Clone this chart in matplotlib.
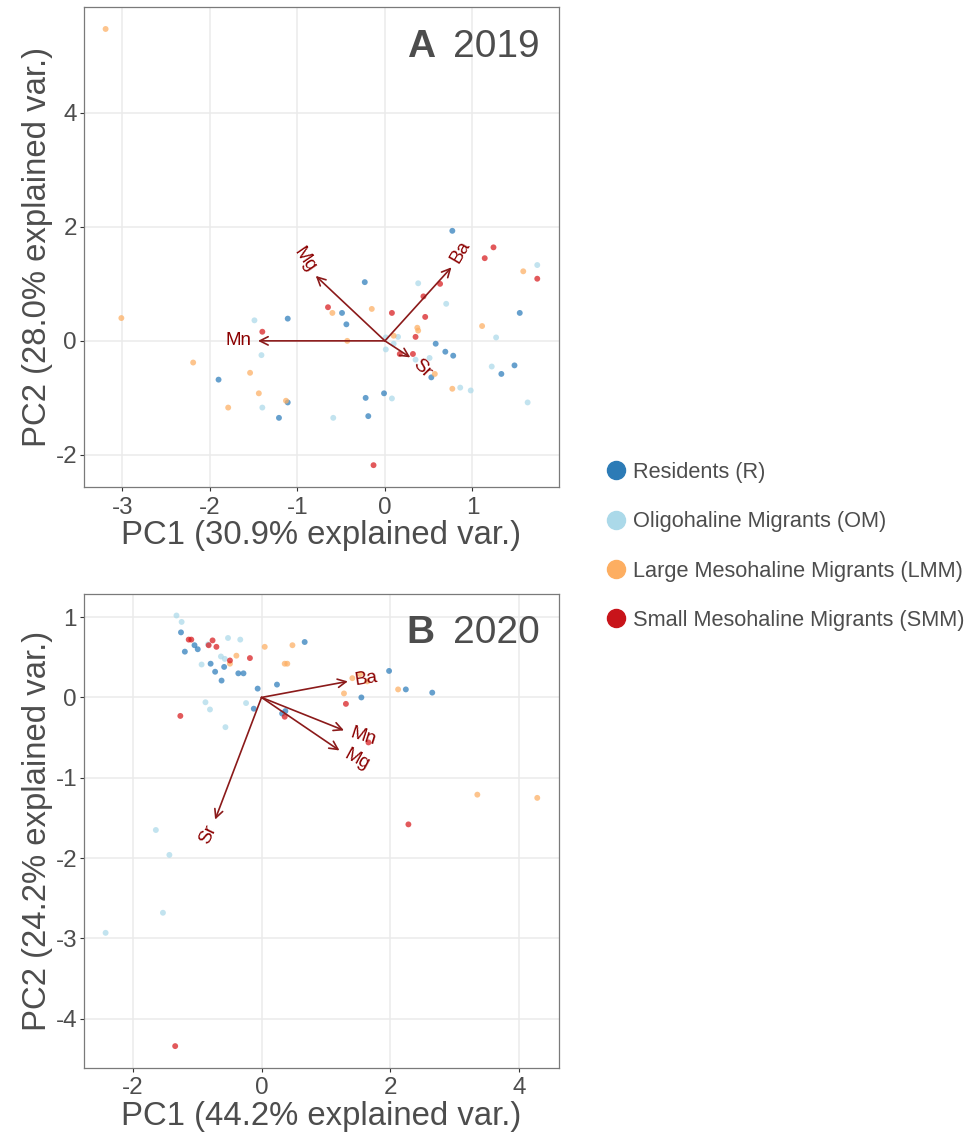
import numpy as np
import matplotlib.pyplot as plt
from matplotlib.lines import Line2D

plt.rcParams['font.family'] = ['Liberation Sans', 'DejaVu Sans']

groups = ['Residents (R)', 'Oligohaline Migrants (OM)',
          'Large Mesohaline Migrants (LMM)', 'Small Mesohaline Migrants (SMM)']
point_colors = ['#2b7bba', '#abd9e9', '#fdae61', '#d7191c']
legend_colors = ['#2c7bb6', '#abd9e9', '#fdae61', '#c8141a']

# 2019 scores
r19_x = [0.77, -0.23, -1.11, -0.49, -0.44, 1.54, 0.58, 0.69, 0.78, 0.53, 1.33, 1.48, -1.90, -1.11, -1.21, -0.22, -0.01, -0.19]
r19_y = [1.93, 1.03, 0.39, 0.49, 0.29, 0.49, -0.05, -0.19, -0.26, -0.64, -0.58, -0.43, -0.68, -1.08, -1.35, -1.00, -0.92, -1.32]
om19_x = [0.38, 0.70, 1.74, -1.49, -1.41, -1.40, -0.59, 0.08, 0.01, 0.01, 0.10, 0.15, 0.35, 0.51, 0.86, 0.98, 1.22, 1.27, 1.63]
om19_y = [1.01, 0.65, 1.33, 0.36, -0.25, -1.17, -1.35, -1.01, 0.06, -0.15, -0.05, 0.07, -0.33, -0.30, -0.82, -0.87, -0.45, 0.06, -1.08]
lmm19_x = [-3.19, -3.01, -2.19, -1.54, -1.79, -1.44, -1.13, -0.60, -0.15, -0.43, 0.10, 0.37, 0.38, 0.57, 0.77, 1.11, 1.58]
lmm19_y = [5.47, 0.40, -0.38, -0.56, -1.17, -0.92, -1.05, 0.49, 0.56, 0.00, 0.09, 0.23, 0.18, -0.58, -0.84, 0.26, 1.22]
smm19_x = [1.24, 1.14, 1.74, 0.63, 0.44, 0.46, 0.08, -0.65, -1.40, 0.35, 0.17, 0.32, -0.13]
smm19_y = [1.64, 1.45, 1.09, 1.00, 0.78, 0.42, 0.49, 0.59, 0.16, 0.07, -0.23, -0.23, -2.18]

# 2019 loadings
vars19 = ['Mg', 'Ba', 'Mn', 'Sr']
load19_x = [-0.79, 0.76, -1.45, 0.29]
load19_y = [1.14, 1.29, 0.0, -0.29]

# 2020 scores
r20_x = [-1.25, -1.19, -1.04, -0.99, -0.79, -0.72, -0.58, -0.62, -0.36, -0.28, -0.06, 0.24, 0.67, -0.12, 0.37, 0.32, 1.55, 1.98, 2.24, 2.65]
r20_y = [0.81, 0.57, 0.65, 0.60, 0.42, 0.32, 0.38, 0.21, 0.30, 0.30, 0.11, 0.16, 0.69, -0.14, -0.17, -0.20, 0.00, 0.33, 0.10, 0.06]
om20_x = [-1.32, -1.24, -0.83, -0.52, -0.33, -0.93, -0.63, -0.57, -0.87, -0.80, -0.24, -0.56, -1.64, -1.43, -1.53, -2.42]
om20_y = [1.02, 0.94, 0.66, 0.74, 0.72, 0.41, 0.51, 0.48, -0.06, -0.15, -0.07, -0.37, -1.65, -1.96, -2.68, -2.93]
lmm20_x = [0.05, 0.48, -0.39, -0.49, 0.36, 0.40, 1.41, 1.53, 1.64, 1.28, 2.12, 3.35, 4.28]
lmm20_y = [0.63, 0.65, 0.52, 0.42, 0.42, 0.42, 0.24, 0.29, 0.20, 0.05, 0.10, -1.21, -1.25]
smm20_x = [-1.13, -1.09, -0.82, -0.76, -0.70, -0.49, -0.18, -1.26, 0.36, 1.31, 1.66, 2.28, -1.34]
smm20_y = [0.72, 0.72, 0.65, 0.71, 0.63, 0.46, 0.49, -0.23, -0.24, -0.08, -0.56, -1.58, -4.34]

# 2020 loadings
vars20 = ['Ba', 'Mn', 'Mg', 'Sr']
load20_x = [1.34, 1.28, 1.21, -0.72]
load20_y = [0.20, -0.41, -0.66, -1.52]

TXT = '#4d4d4d'
ARROW = '#8b1a1a'
LABEL = '#8b0000'


def biplot(ax, xs, ys, vnames, lx, ly, xticks, yticks, xlab, ylab, letter, year):
    allx = np.concatenate([np.asarray(v) for v in xs])
    ally = np.concatenate([np.asarray(v) for v in ys])
    for x, y, c in zip(xs, ys, point_colors):
        ax.scatter(x, y, s=18, color=c, alpha=0.72, edgecolors='none', zorder=3)

    for name, vx, vy in zip(vnames, lx, ly):
        ax.annotate('', xy=(vx, vy), xytext=(0, 0),
                    arrowprops=dict(arrowstyle='->,head_length=0.6,head_width=0.3',
                                    color=ARROW, lw=1.2, shrinkA=0, shrinkB=0),
                    zorder=4)
        # label angle and side as in ggbiplot
        ang = np.degrees(np.arctan(vy / vx))
        s = np.sign(vx)
        d = 5.0
        off = (s * d * np.cos(np.radians(ang)), s * d * np.sin(np.radians(ang)))
        ax.annotate(name, xy=(vx, vy), xytext=off, textcoords='offset points',
                    rotation=ang, rotation_mode='anchor',
                    ha='left' if s > 0 else 'right', va='center',
                    fontsize=13.5, color=LABEL, zorder=5)

    dx = (allx.max() - allx.min()) * 0.05
    dy = (ally.max() - ally.min()) * 0.05
    ax.set_xlim(allx.min() - dx, allx.max() + dx)
    ax.set_ylim(ally.min() - dy, ally.max() + dy)
    ax.set_xticks(xticks)
    ax.set_yticks(yticks)
    ax.set_xticklabels([str(t) for t in xticks])
    ax.set_yticklabels([str(t) for t in yticks])
    ax.grid(True, color='#ebebeb', lw=1.1, zorder=0)
    ax.set_axisbelow(True)
    for sp in ax.spines.values():
        sp.set_color('#7a7a7a')
        sp.set_linewidth(0.9)
    ax.tick_params(colors='#333333', labelcolor=TXT, labelsize=17.5, length=3, width=0.8)
    ax.tick_params(axis='x', pad=4)
    ax.tick_params(axis='y', pad=2)
    ax.set_xlabel(xlab, fontsize=23.7, color=TXT, labelpad=1)
    ax.set_ylabel(ylab, fontsize=23.7, color=TXT, labelpad=2)
    ax.text(0.96, 0.918, year, transform=ax.transAxes, ha='right', va='center',
            fontsize=28, color=TXT)
    ax.text(0.739, 0.918, letter, transform=ax.transAxes, ha='right', va='center',
            fontsize=28, fontweight='bold', color=TXT)


fig = plt.figure(figsize=(9.77, 11.37), dpi=100)
ax1 = fig.add_axes([0.086, 0.5717, 0.486, 0.422])
ax2 = fig.add_axes([0.086, 0.061, 0.486, 0.4166])

biplot(ax1, [r19_x, om19_x, lmm19_x, smm19_x], [r19_y, om19_y, lmm19_y, smm19_y],
       vars19, load19_x, load19_y, [-3, -2, -1, 0, 1], [-2, 0, 2, 4],
       'PC1 (30.9% explained var.)', 'PC2 (28.0% explained var.)', 'A', '2019')
biplot(ax2, [r20_x, om20_x, lmm20_x, smm20_x], [r20_y, om20_y, lmm20_y, smm20_y],
       vars20, load20_x, load20_y, [-2, 0, 2, 4], [-4, -3, -2, -1, 0, 1],
       'PC1 (44.2% explained var.)', 'PC2 (24.2% explained var.)', 'B', '2020')

handles = [Line2D([], [], marker='o', ls='', ms=13, color=c) for c in legend_colors]
fig.legend(handles, groups, loc='center left', bbox_to_anchor=(0.610, 0.5195),
           frameon=False, fontsize=15.7, labelcolor=TXT, handletextpad=0.3,
           labelspacing=1.3, handlelength=1.0, borderaxespad=0)

fig.savefig('out.png', dpi=100)
